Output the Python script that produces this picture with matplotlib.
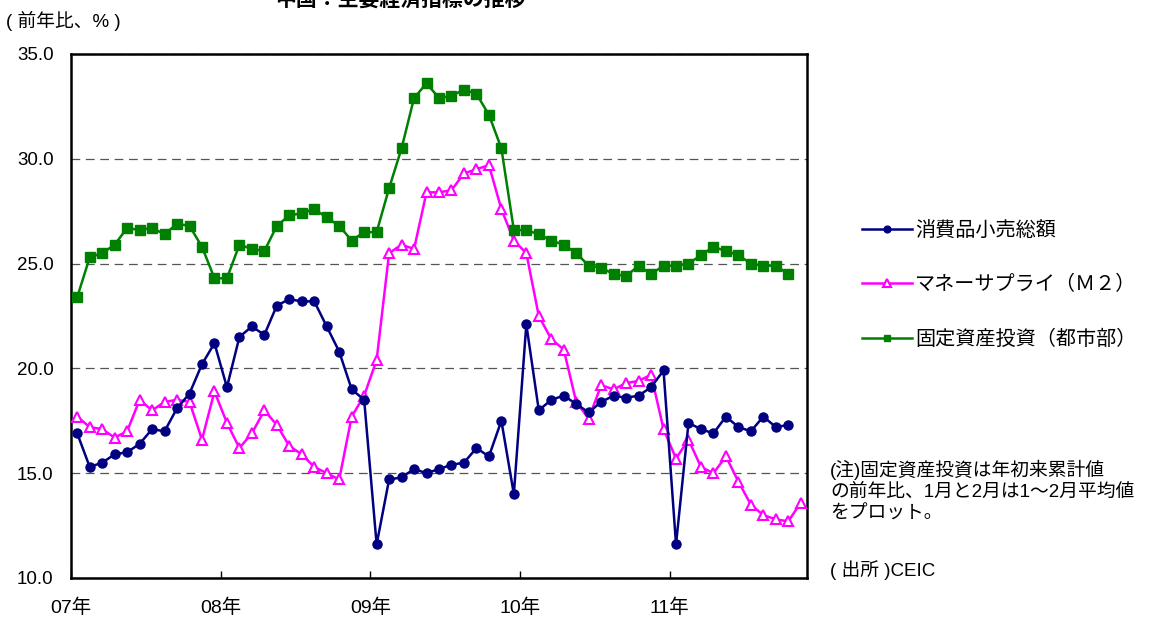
import numpy as np
import matplotlib
matplotlib.use('Agg')
import matplotlib.pyplot as plt
import matplotlib.transforms as mtransforms

#### Fonts
plt.rcParams['font.family'] = ['Liberation Sans', 'Noto Sans CJK JP']

#### Data (monthly, Jan-2007 onward, % y/y)
retail = [16.9, 15.3, 15.5, 15.9, 16.0, 16.4, 17.1, 17.0, 18.1, 18.8, 20.2, 21.2,
          19.1, 21.5, 22.0, 21.6, 23.0, 23.3, 23.2, 23.2, 22.0, 20.8, 19.0, 18.5,
          11.6, 14.7, 14.8, 15.2, 15.0, 15.2, 15.4, 15.5, 16.2, 15.8, 17.5, 14.0,
          22.1, 18.0, 18.5, 18.7, 18.3, 17.9, 18.4, 18.7, 18.6, 18.7, 19.1, 19.9,
          11.6, 17.4, 17.1, 16.9, 17.7, 17.2, 17.0, 17.7, 17.2, 17.3]
m2 = [17.7, 17.2, 17.1, 16.7, 17.0, 18.5, 18.0, 18.4, 18.5, 18.4, 16.6, 18.9,
      17.4, 16.2, 16.9, 18.0, 17.3, 16.3, 15.9, 15.3, 15.0, 14.7, 17.7, 18.7,
      20.4, 25.5, 25.9, 25.7, 28.4, 28.4, 28.5, 29.3, 29.5, 29.7, 27.6, 26.1,
      25.5, 22.5, 21.4, 20.9, 18.4, 17.6, 19.2, 19.0, 19.3, 19.4, 19.7, 17.1,
      15.7, 16.6, 15.3, 15.0, 15.8, 14.6, 13.5, 13.0, 12.8, 12.7, 13.6]
fai = [23.4, 25.3, 25.5, 25.9, 26.7, 26.6, 26.7, 26.4, 26.9, 26.8, 25.8, 24.3,
       24.3, 25.9, 25.7, 25.6, 26.8, 27.3, 27.4, 27.6, 27.2, 26.8, 26.1, 26.5,
       26.5, 28.6, 30.5, 32.9, 33.6, 32.9, 33.0, 33.3, 33.1, 32.1, 30.5, 26.6,
       26.6, 26.4, 26.1, 25.9, 25.5, 24.9, 24.8, 24.5, 24.4, 24.9, 24.5, 24.9,
       24.9, 25.0, 25.4, 25.8, 25.6, 25.4, 25.0, 24.9, 24.9, 24.5]

year_labels = ['07年', '08年', '09年', '10年', '11年']
series_names = ['消費品小売総額', 'マネーサプライ（Ｍ２）', '固定資産投資（都市部）']

n_months = len(m2)

# ============================================================================|
#### Figure
fig = plt.figure(figsize=(11.66, 6.17), dpi=100)
ax = fig.add_axes([71/1166, 1 - 578/617, (807 - 71)/1166, (578 - 54)/617])

x_r = np.arange(len(retail)) + 0.5
x_m = np.arange(len(m2)) + 0.5
x_f = np.arange(len(fai)) + 0.5

l1, = ax.plot(x_r, retail, color='#000080', lw=1.8, marker='o', ms=6.5,
              mfc='#000080', mec='#000080', zorder=4)
l2, = ax.plot(x_m, m2, color='#FF00FF', lw=1.8, marker='^', ms=7,
              mfc='white', mec='#FF00FF', mew=1.5, zorder=3)
l3, = ax.plot(x_f, fai, color='#008000', lw=1.8, marker='s', ms=6.5,
              mfc='#008000', mec='#008000', zorder=3)

ax.set_xlim(0, n_months)
ax.set_ylim(10, 35)
ax.set_yticks(np.arange(10, 35.1, 5))
ax.set_yticklabels(['%.1f' % v for v in np.arange(10, 35.1, 5)], fontsize=13.5)
ax.set_xticks(np.arange(0, n_months, 12))
ax.set_xticklabels(year_labels, fontsize=14)
offset = mtransforms.ScaledTranslation(6/100, 0, fig.dpi_scale_trans)
for lab in ax.get_xticklabels():
    lab.set_transform(lab.get_transform() + offset)

ax.tick_params(axis='x', direction='in', length=5, width=1, pad=15)
ax.tick_params(axis='y', direction='in', length=0, pad=12.5)
ax.yaxis.grid(True, ls=(0, (7, 4.5)), color='#555555', lw=0.9)
for s in ax.spines.values():
    s.set_linewidth(1.8)
    s.set_color('black')

#### Texts
fig.text(6/1166, 1 - 21/617, '( 前年比、% )', fontsize=13.5, va='center', ha='left')
fig.text(400/1166, 1.0, '中国：主要経済指標の推移', fontsize=15,
         fontweight='bold', va='center', ha='center')

fig.legend([l1, l2, l3], series_names, loc='upper left',
           bbox_to_anchor=(862/1166, 1 - 221/617), frameon=False,
           fontsize=14.5, handlelength=2.5, handletextpad=0.15,
           labelspacing=1.75, borderpad=0, borderaxespad=0, markerscale=0.75)

fig.text(830/1166, 1 - 460/617,
         '(注)固定資産投資は年初来累計値\nの前年比、1月と2月は1～2月平均値\nをプロット。',
         fontsize=13.5, va='top', ha='left', linespacing=1.3)
fig.text(830/1166, 1 - 570/617, '( 出所 )CEIC', fontsize=13.5, va='center', ha='left')

fig.savefig('out.png', dpi=100)
